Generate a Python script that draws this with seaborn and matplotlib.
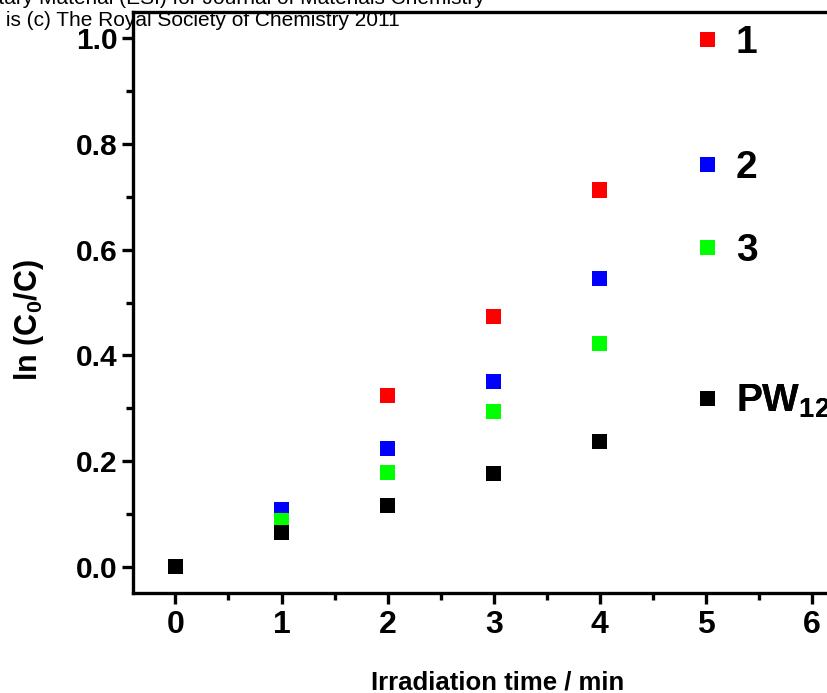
import numpy as np
import pandas as pd
import matplotlib
matplotlib.use('Agg')
import matplotlib.pyplot as plt
import seaborn as sns
from matplotlib.lines import Line2D
from matplotlib.ticker import MultipleLocator, FormatStrFormatter

# data
time_min = [0, 1, 2, 3, 4]
s1 = [0.0, 0.108, 0.323, 0.473, 0.713]
s2 = [0.0, 0.108, 0.223, 0.350, 0.546]
s3 = [0.0, 0.088, 0.178, 0.293, 0.422]
pw12 = [0.0, 0.064, 0.115, 0.176, 0.236]

labels = ['1', '2', '3', r'PW$_{12}$']
colors = ['#ff0000', '#0000ff', '#00ff00', '#000000']
legend_y = [43, 168, 251, 401]   # pixel rows of the legend entries

df = pd.DataFrame({
    'time': time_min * 4,
    'lnC': s1 + s2 + s3 + pw12,
    'sample': sum([[l] * len(time_min) for l in labels], []),
})

sns.set_theme(style='ticks', rc={'text.color': 'black', 'axes.labelcolor': 'black',
                                 'xtick.color': 'black', 'ytick.color': 'black',
                                 'axes.edgecolor': 'black'})
plt.rcParams['font.family'] = ['Liberation Sans', 'DejaVu Sans']
plt.rcParams['font.weight'] = 'bold'
plt.rcParams['mathtext.fontset'] = 'custom'
plt.rcParams['mathtext.rm'] = 'Liberation Sans:bold'
plt.rcParams['mathtext.it'] = 'Liberation Sans:bold'
plt.rcParams['mathtext.bf'] = 'Liberation Sans:bold'
plt.rcParams['mathtext.default'] = 'rm'

W, H = 827, 693
fig = plt.figure(figsize=(W / 100, H / 100), dpi=100)
# axes runs past the right edge of the picture (cropped original)
ax = fig.add_axes([133 / W, (H - 593) / H, (854.4 - 133) / W, (593 - 12) / H])

sns.scatterplot(data=df, x='time', y='lnC', hue='sample', palette=colors,
                marker='s', s=117, linewidth=0, legend=False, ax=ax)

ax.set_xlim(-0.4, 6.4)
ax.set_ylim(-0.05, 1.05)
ax.xaxis.set_major_locator(MultipleLocator(1))
ax.xaxis.set_minor_locator(MultipleLocator(0.5))
ax.yaxis.set_major_locator(MultipleLocator(0.2))
ax.yaxis.set_minor_locator(MultipleLocator(0.1))
ax.set_xticks(range(0, 7))
ax.set_xticklabels([str(i) for i in range(0, 7)])
ax.yaxis.set_major_formatter(FormatStrFormatter('%.1f'))

for sp in ax.spines.values():
    sp.set_linewidth(2.4)
    sp.set_color('black')
ax.spines['right'].set_visible(False)

ax.tick_params(axis='both', which='major', length=8, width=2.4, direction='out', color='black')
ax.tick_params(axis='both', which='minor', length=5, width=2.4, direction='out', color='black')
ax.tick_params(axis='x', labelsize=23, pad=4, labelcolor='black')
ax.tick_params(axis='y', labelsize=21.5, pad=3, labelcolor='black')
for t in ax.get_xticklabels() + ax.get_yticklabels():
    t.set_fontweight('bold')

ax.set_xlabel('Irradiation time / min', fontsize=18.5, fontweight='bold', color='black')
ax.xaxis.label.set_va('baseline')
ax.xaxis.set_label_coords((498 - 133) / (854.4 - 133), -(690 - 593) / 581)

ax.set_ylabel(r'ln (C$_0$/C)', fontsize=22, fontweight='bold', color='black')
ax.yaxis.label.set_va('center')
ax.yaxis.set_label_coords((29 - 133) / (854.4 - 133), (593 - 320) / 581)

# legend entries placed one by one like the original
for lab, col, yy in zip(labels, colors, legend_y):
    h = Line2D([], [], marker='s', ls='', color=col, markersize=10.8, markeredgewidth=0)
    leg = ax.legend(handles=[h], labels=[lab], loc='center left',
                    bbox_to_anchor=(697 / W, 1 - yy / H), bbox_transform=fig.transFigure,
                    frameon=False, borderpad=0, borderaxespad=0,
                    handlelength=0.5, handletextpad=0.5,
                    prop={'size': 28, 'weight': 'bold'})
    for t in leg.get_texts():
        t.set_color('black')
    ax.add_artist(leg)

# journal header, cut off on the left in the source
fig.text(485 / W, 1 - 4 / H,
         'Electronic Supplementary Material (ESI) for Journal of Materials Chemistry',
         ha='right', va='baseline', fontsize=15, fontweight='normal', color='black')
fig.text(400 / W, 1 - 26 / H,
         'This journal is (c) The Royal Society of Chemistry 2011',
         ha='right', va='baseline', fontsize=15, fontweight='normal', color='black')

fig.savefig('out.png', dpi=100, facecolor='white')
